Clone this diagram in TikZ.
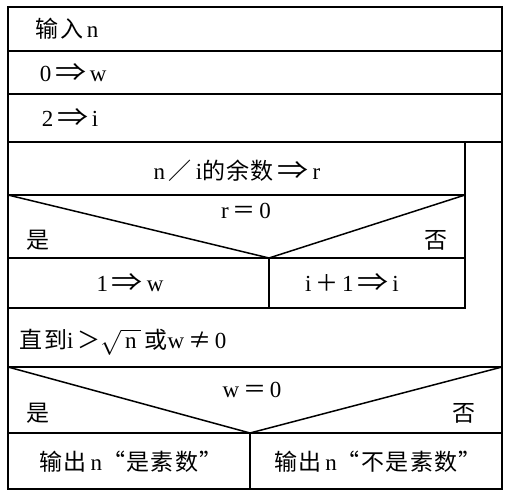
\documentclass[tikz,border=0pt]{standalone}
\usepackage{fontspec}
\setmainfont[LetterSpace=6]{Liberation Serif}
\newfontfamily\cjk[LetterSpace=6]{Noto Sans CJK SC}
\newcommand\impl{\,{\cjk\scalebox{1.35}[1.1]{⇒}}\,}
\begin{document}
\begin{tikzpicture}[x=1pt,y=-1pt,line width=1.5pt,
  txt/.style={font=\fontsize{23}{27}\selectfont,inner sep=0pt}]
\useasboundingbox (0,0) rectangle (530,492);
%\draw[help lines] (0,0) grid[step=50] (530,492);
% frame and sequence rows
\draw[line width=2pt] (8,7) rectangle (502,489);
\draw (8,51) -- (502,51) (8,94) -- (502,94) (8,142) -- (502,142);
% loop body
\draw (465,142) -- (465,308) -- (8,308);
\draw (8,195) -- (465,195);
\draw (8,195) -- (269,258) -- (465,195);
\draw (8,258) -- (465,258) (269,258) -- (269,308);
% last decision
\draw (8,367) -- (502,367);
\draw (8,367) -- (250,433) -- (502,367);
\draw (8,433) -- (502,433) (250,433) -- (250,489);
\node[txt,anchor=west] (inp) at (35,29) {{\cjk 输入}\,n};
\node[txt,anchor=west] (setw) at (39,73) {0\impl w};
\node[txt,anchor=west] (seti) at (41,118) {2\impl i};
\node[txt] (rem) at (237,171) {n\,{\cjk ／}\,i{\cjk 的余数}\impl r};
\node[txt] (condr) at (246,211) {r\,{\cjk ＝}\,0};
\node[txt,anchor=west] (yesa) at (26,240) {\cjk 是};
\node[txt,anchor=east] (noa) at (448,240) {\cjk 否};
\node[txt] (onew) at (130,283) {1\impl w};
\node[txt] (inci) at (352,283) {i\,{\cjk ＋}\,1\impl i};
\node[txt,anchor=west] (until) at (19,342) {{\cjk 直到}i\,{\cjk ＞}$\sqrt{\mathrm{\,n\,}}$\,{\cjk 或}w\,{\cjk ≠}\,0};
\node[txt] (condw) at (252,390) {w\,{\cjk ＝}\,0};
\node[txt,anchor=west] (yesb) at (26,413) {\cjk 是};
\node[txt,anchor=east] (nob) at (476,413) {\cjk 否};
\node[txt] (prime) at (131,462) {{\cjk 输出}\,n{\cjk “是素数”}};
\node[txt] (nprime) at (378,462) {{\cjk 输出}\,n{\cjk “不是素数”}};
\end{tikzpicture}
\end{document}
